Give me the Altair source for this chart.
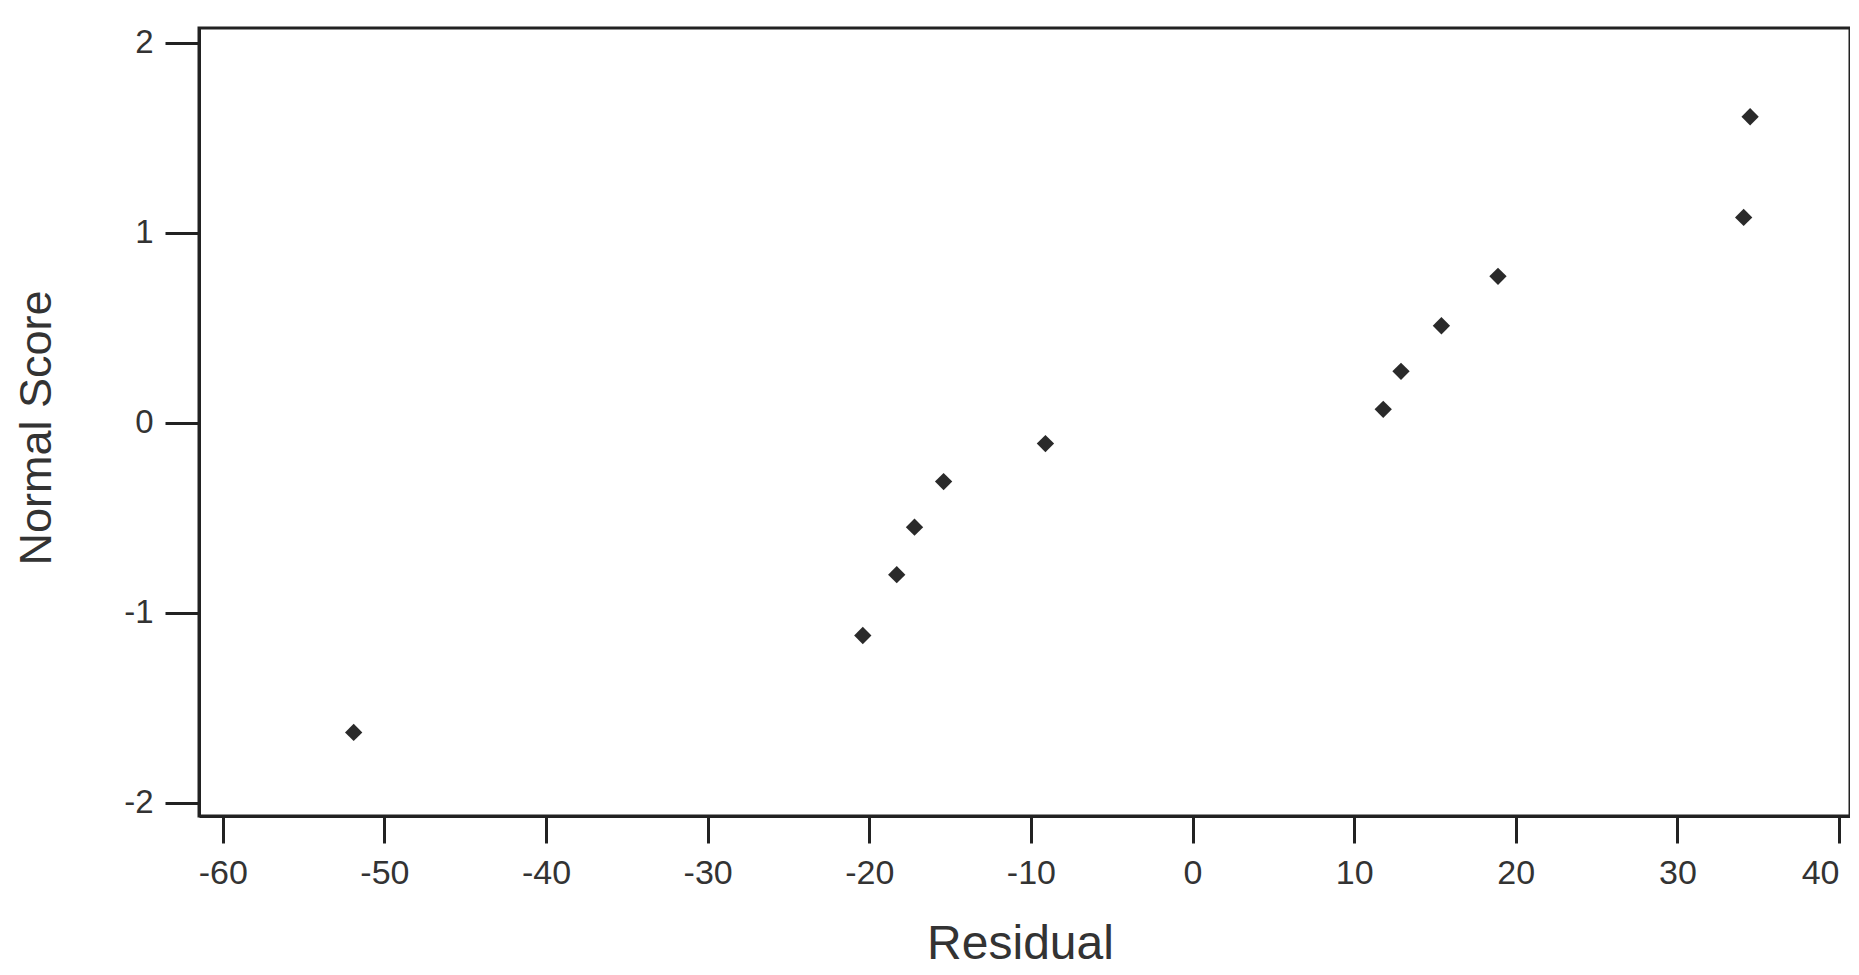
import altair as alt
import pandas as pd

residual = [-51.9, -20.4, -18.3, -17.2, -15.4, -9.1, 11.8, 12.9, 15.4, 18.9, 34.1, 34.5]
normal_score = [-1.63, -1.12, -0.80, -0.55, -0.31, -0.11, 0.07, 0.27, 0.51, 0.77, 1.08, 1.61]
x_ticks = [-60, -50, -40, -30, -20, -10, 0, 10, 20, 30, 40]
y_ticks = [-2, -1, 0, 1, 2]

df = pd.DataFrame({"Residual": residual, "Normal Score": normal_score})

FONT = "Liberation Sans"
INK = "#222222"

chart = alt.Chart(df).mark_point(
    shape="diamond", filled=True, size=300, color="#2a2a2a", opacity=1
).encode(
    x=alt.X("Residual:Q",
            scale=alt.Scale(domain=[-61.47, 40.68], nice=False, zero=False),
            axis=alt.Axis(values=x_ticks, title="Residual", grid=False,
                          tickSize=27, tickWidth=3, tickColor=INK,
                          domainWidth=3, domainColor=INK,
                          labelFont=FONT, labelFontSize=34, labelColor="#333333",
                          labelExpr="'' + datum.value",
                          labelPadding=13, labelFlush=15, labelOverlap=False,
                          titleFont=FONT, titleFontSize=48, titleFontWeight="normal",
                          titleColor="#333333", titleX=821, titleY=142,
                          titleBaseline="alphabetic", titleAlign="center")),
    y=alt.Y("Normal Score:Q",
            scale=alt.Scale(domain=[-2.07, 2.077], nice=False, zero=False),
            axis=alt.Axis(values=y_ticks, title="Normal Score", grid=False,
                          tickSize=34, tickWidth=3, tickColor=INK,
                          domainWidth=3, domainColor=INK,
                          labelFont=FONT, labelFontSize=33, labelColor="#333333",
                          labelExpr="'' + datum.value",
                          labelPadding=12, labelFlush=False, labelOverlap=False,
                          titleFont=FONT, titleFontSize=45, titleFontWeight="normal",
                          titleColor="#333333", titleX=-149, titleY=399.5,
                          titleAngle=-90, titleBaseline="alphabetic", titleAlign="center")),
).properties(
    width=1651, height=788,
    background="white",
    autosize=alt.AutoSizeParams(type="none"),
    padding={"left": 191, "top": 20, "right": 0, "bottom": 151},
).configure_view(
    stroke=INK, strokeWidth=3
)

chart.save("out.html", embed_options={"renderer": "svg", "actions": False})
